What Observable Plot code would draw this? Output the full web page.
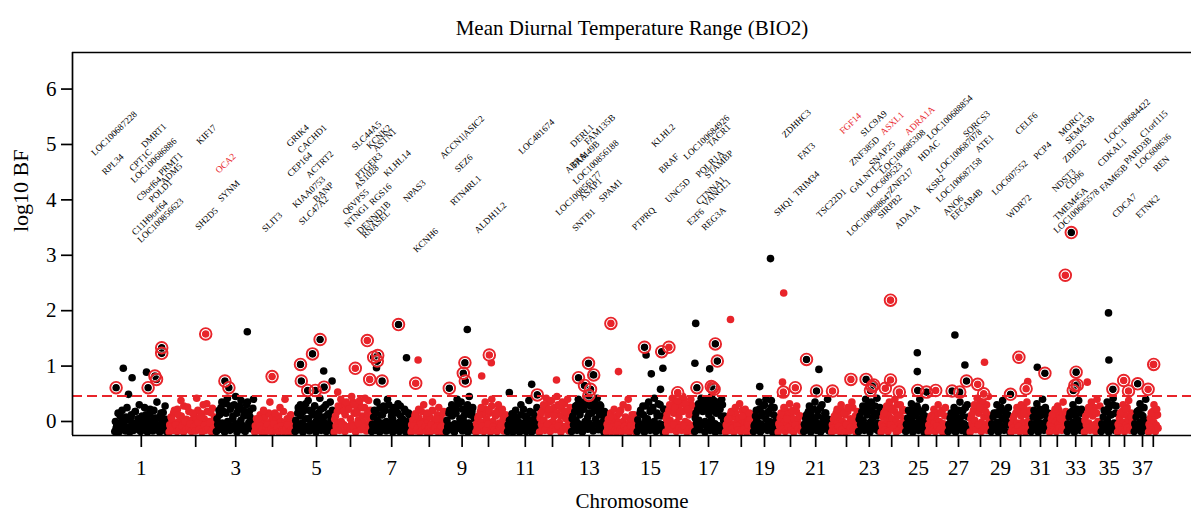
<!DOCTYPE html>
<html><head><meta charset="utf-8">
<script src="https://cdn.jsdelivr.net/npm/d3@7"></script>
<script src="https://cdn.jsdelivr.net/npm/@observablehq/plot@0.6"></script>
<style>html,body{margin:0;padding:0;background:#fff}</style>
</head><body><div id="chart"></div>
<script>
// ---------------- data ----------------
const title = "Mean Diurnal Temperature Range (BIO2)";
const xLabel = "Chromosome";
const yLabel = "log10 BF";
const RED = "#e8242a", BLACK = "#000000";
const threshold = 0.46;
const yTicks = [0, 1, 2, 3, 4, 5, 6];
// cumulative genome position (approx. Mb) of each chromosome's centre, chr 1..38
const chrMid = [102,238,338,430,540,625,728,822,904,970,1062,1130,1222,1305,1375,1448,1520,1602,1660,1725,1788,1865,1922,1978,2045,2090,2145,2200,2250,2300,2350,2392,2438,2478,2522,2560,2605,2632];
// background SNP values (log10 BF x 100), in genomic order along each chromosome (first set)
const cloudValues = [
 [-18,-12,-5,-19,10,-15,-8,2,-17,25,-10,-19,8,-3,-16,18,-12,-6,30,-18,-9,4,-14,12,-19,-2,22,-11,-17,6,-7,35,-15,-19,15,-4,-13,28,-18,-8],
 [-19,-10,5,-16,20,-6,-18,12,-13,38,-8,-19,0,-15,26,-11,-4,-18,15,-9,-17,42,-2,-14,8,-19,30,-7,-16,18,-12,-3,-18,24,-10,-17],
 [-18,-5,20,-14,35,-10,-19,15,42,-8,-16,28,5,-12,45,-19,22,-6,38,-15,10,-18,30,-9,18,-13,-2,40],
 [-19,-12,-16,5,-8,-18,-14,20,-19,-10,-6,-17,35,-13,-19,-4,15,-16,-11,-19,25,-8,-15,-18,40,-12,-6,-19,10,-14,-17,-9],
 [-18,-8,15,-15,30,-12,-19,22,5,-10,38,-17,-4,18,-14,28,-19,8,-11,42,-16,0,25,-9,-18,12,-6,35,-13,-19],
 [-19,10,-12,28,-16,40,-6,18,-18,35,-10,22,-14,45,-8,30,-19,15,-4,38,-15,25,-11,42,-17,8,-13,20],
 [-18,-10,20,-16,35,-6,-19,12,-13,28,-8,-17,40,-3,-15,18,-19,25,-11,-5,32,-18,10,-14,-7,22,-19,-12,15,-9],
 [-19,-14,-8,10,-17,-12,22,-19,-5,-15,30,-10,-18,15,-13,-19,-6,35,-16,-11,5,-18,25,-14,-9,-19,18,-12],
 [-18,-10,15,-15,30,-8,-19,22,40,-12,-5,35,-17,10,-14,25,-19,45,-9,18,-16,5],
 [-19,-12,10,-16,25,-8,-18,35,-14,-5,20,-19,40,-10,-15,15,-18,30,-11,-6,22,-17,-13,8],
 [-18,-10,-15,5,-19,-12,20,-16,-8,-19,30,-14,-11,10,-18,-6,38,-15,-19,15,-9,-13,25,-17],
 [-19,15,-10,30,-16,42,-5,22,-18,38,-12,10,-15,45,-8,28,-19,35,-14,18,-11,40,-17,25],
 [-18,10,-12,28,-16,40,-6,20,-19,35,-10,45,-14,15,-8,38,-17,25,-4,42,-15,30,-11,18,-19,5],
 [-19,-12,-16,8,-18,-10,22,-15,-19,-6,15,-13,-18,30,-9,-17,-14,40,-19,-8,12,-16,-11,-19],
 [-18,-8,15,-14,28,-19,5,-10,35,-16,20,-12,42,-18,10,-6,30,-15,-19,22],
 [-19,12,-10,30,-15,42,-6,25,-18,38,-12,18,-16,45,-8,32,-19,22,-13,40,-17,28],
 [-18,15,-10,32,-15,42,-5,25,-19,38,-12,20,-16,45,-8,30,-19,35,-13,22,-17,40,-11,10],
 [-19,-10,5,-16,18,-12,-19,25,-8,-15,32,-18,10,-14,22,-19,-6,15,-17,-11],
 [-18,-5,20,-14,35,-19,10,28,-10,40,-16,15,-8,38,-19,25,-12,5],
 [-19,-8,15,-14,25,-18,5,-11,32,-16,20,-19,-6,28,-13,10,-17,-9],
 [-18,-10,12,-15,28,-19,5,-12,35,-16,20,-8,-19,30,-14,15,-11,40,-17,-5],
 [-19,-12,10,-16,22,-9,-18,30,-14,15,-19,-6,25,-17,-11,35,-15,5,-19,18],
 [-18,10,-12,28,-16,40,-8,20,-19,35,-10,15,-14,42,-17,25],
 [-19,-10,15,-15,28,-18,35,-6,22,-12,40,-19,10,-16,30,-9,-14,20],
 [-18,-8,20,-14,32,-19,10,-11,28,-16,40,-6,15,-19,25,-13],
 [-19,-12,10,-16,22,-18,-8,30,-14,15,-19,-10,25,-17],
 [-18,-10,15,-15,25,-19,5,-12,35,-16,20,-8,-19,30,-14],
 [-19,12,-10,30,-15,42,-6,25,-18,38,-12,18,-16,45,-8],
 [-18,-8,15,-14,30,-19,20,-11,38,-16,10,-6,25,-19],
 [-19,-12,10,-16,25,-9,-18,30,-14,15,-19,35,-11,20],
 [-18,-8,20,-14,32,-19,10,-11,40,-16,25,-6,15],
 [-19,-10,12,-15,22,-18,28,-12,5,-16,35,-9,18],
 [-18,-8,15,-14,30,-19,10,-11,38,-16,22,-6],
 [-19,10,-12,25,-16,35,-8,18,-18,40,-13,28],
 [-18,-8,20,-14,35,-19,12,-10,42,-16,28],
 [-19,-10,15,-15,30,-18,22,-12,38,-16,8,-9],
 [-18,-8,18,-14,32,-19,10,-11,40,-16],
 [-19,-10,15,-15,30,-18,22,-12]
];
// background SNP values (log10 BF x 100), second set, interleaved with the first
const cloudValues2 = [
 [0,-8,15,-12,-2,20,-6,-14,8,-10,3,-15,12,-4,-11,18,-7,5,-13,-1,10,-9,25,-5,-12,2,14,-8,-3,20,-11,6,-6,-14,10,-2,16,-9,4,-12],
 [-6,8,-12,15,-3,-9,22,0,-14,10,-5,28,-10,4,-7,18,-13,2,-4,12,-11,6,20,-8,-2,14,-12,5,-6,32,-9,0,16,-3,-11,8],
 [5,-8,12,25,-3,18,-10,32,0,-6,22,-12,10,30,-4,15,-9,28,2,-7,20,-11,12,35,-2,8,-5,24],
 [-8,5,-3,-12,12,-6,2,-10,8,-4,-13,15,-2,-9,6,-7,-11,3,-5,10,-12,0,-8,18,-4,-10,5,-6,-2,12,-9,-3],
 [2,-6,25,-10,10,-3,18,-8,32,-12,5,20,-5,12,-9,28,0,-7,15,-11,22,-4,8,-2,30,-10,14,-6,4,20],
 [4,-8,18,-3,25,0,32,-6,12,22,-10,28,5,-4,35,15,-8,20,2,30,-5,10,-2,25,-9,14,38,0],
 [-5,8,-10,15,2,-7,25,-3,12,-12,20,0,-6,30,-9,10,5,-4,22,-11,15,-2,28,-8,4,-6,18,0,-10,12],
 [-6,2,-12,14,-3,-9,6,-4,18,-11,0,-7,10,-2,-13,8,-5,20,-8,2,-10,12,-4,-7,5,-12,15,-3],
 [2,-6,20,-10,10,28,-4,15,-8,32,5,-12,22,0,-7,18,30,-3,12,-9,25,8],
 [-4,6,-10,18,-2,12,-8,22,4,-12,15,-5,28,0,-9,10,-6,20,-3,14,-11,5,-7,12],
 [-6,2,-10,14,-3,-8,8,-12,0,-5,12,-9,22,-2,-11,6,-4,18,-8,2,-13,10,-6,-2],
 [6,-5,20,2,28,-8,12,35,-3,18,0,25,-6,15,30,-2,10,22,-9,32,5,15,-4,20],
 [5,-6,18,2,30,-4,12,25,-8,22,0,32,8,-3,28,15,-7,35,4,20,-5,12,28,-2,10,18],
 [-5,4,-10,15,-3,-8,6,-12,10,-2,-7,20,-4,0,-11,8,-6,25,-3,-9,5,-12,12,-5],
 [3,-5,20,-9,12,-2,28,5,-7,18,-3,25,0,-10,15,32,-4,10,-6,22],
 [5,-4,20,2,28,-8,15,35,-2,22,8,30,-6,18,40,0,25,-3,12,32,-7,15],
 [6,-3,22,2,30,-7,18,35,0,25,-5,12,32,4,20,38,-4,15,28,-8,22,10,30,2],
 [-6,3,-11,12,-4,8,-9,15,-2,-13,6,-5,20,-8,0,10,-3,-12,5,-7],
 [-8,10,2,-12,22,-4,15,-9,30,5,-6,18,0,25,-3,12,-10,8],
 [-4,6,-10,12,-2,20,-7,8,-12,15,-3,5,-9,18,0,-6,10,-11],
 [-5,5,-10,18,-2,12,-8,22,2,-12,10,-4,25,-7,6,-2,15,-9,4,-6],
 [-6,4,-10,15,-3,8,-12,20,0,-7,12,-4,18,-9,5,-2,25,-10,10,-5],
 [4,-5,18,2,25,-8,12,30,-2,20,6,-6,28,10,-3,15],
 [-4,8,-9,20,2,12,-6,25,5,-10,18,0,30,-7,12,-3,22,5],
 [-5,6,-10,15,2,20,-7,12,-3,22,5,-9,18,0,10,-6],
 [-6,4,-10,12,-3,8,-12,15,0,-7,20,-4,10,-9],
 [-5,6,-9,15,-2,12,-7,20,2,-11,10,-4,25,-8,8],
 [5,-4,20,2,28,-8,15,32,-2,22,8,-6,30,12,0],
 [-4,8,-9,15,-2,12,-7,25,4,-10,18,0,12,-6],
 [-5,5,-10,15,-3,20,-8,10,-2,25,-7,12,0,-4],
 [-4,8,-9,15,2,-7,22,-3,12,-10,18,0,6],
 [-5,5,-9,15,-2,10,-7,20,0,-11,12,-4,8],
 [-4,8,-9,18,-2,12,-7,22,2,-10,15,0],
 [2,-6,15,-3,20,-9,10,25,-5,15,0,-8],
 [-4,8,-10,18,2,25,-7,12,30,-3,15],
 [-5,6,-9,18,-2,12,-7,25,3,-10,15,0],
 [-4,8,-10,20,-2,12,-6,25,2,-8],
 [-5,6,-9,18,-2,10,-7,12]
];
// notable SNPs: [chromosome, position, log10 BF, circled (1) or not (0)]
const peaks = [
 [1,39,0.61,1],[1,57,0.96,0],[1,79,0.79,0],[1,70,0.49,0],[1,115,0.89,0],[1,119,0.61,1],[1,136,0.82,1],[1,140,0.76,1],[1,153,1.33,1],[1,153,1.23,1],
 [2,263,1.58,1],
 [3,367,1.62,0],[3,311,0.73,1],[3,321,0.61,1],
 [4,429,0.81,1],
 [5,500,1.03,1],[5,502,0.73,1],[5,530,1.22,1],[5,549,1.48,1],[5,558,0.91,0],[5,518,0.56,1],[5,537,0.56,1],[5,559,0.62,1],[5,579,0.73,0],
 [6,593,0.53,0],[6,637,0.96,1],[6,667,1.46,1],[6,673,0.76,1],
 [7,683,1.16,1],[7,693,1.19,1],[7,692,1.09,1],[7,690,0.97,0],[7,704,0.73,1],[7,745,1.75,1],[7,765,1.15,0],
 [8,794,1.11,0],[8,788,0.69,1],
 [9,872,0.60,1],[9,911,1.06,1],[9,907,0.87,1],[9,912,0.73,1],[9,917,1.66,0],
 [10,953,0.82,0],[10,977,1.06,0],[10,972,1.20,1],
 [11,1022,0.52,0],[11,1078,0.67,0],[11,1092,0.48,1],
 [12,1140,0.75,0],
 [13,1228,0.85,0],[13,1220,1.05,1],[13,1195,0.79,1],[13,1233,0.84,1],[13,1210,0.65,1],[13,1225,0.58,1],[13,1221,0.47,1],
 [14,1276,1.77,1],[14,1295,0.90,0],
 [15,1364,1.20,0],[15,1360,1.34,1],[15,1377,0.86,0],[15,1406,0.96,0],[15,1403,1.26,1],[15,1400,0.58,0],
 [16,1421,1.34,1],[16,1443,0.52,1],
 [17,1488,1.77,0],[17,1486,1.05,0],[17,1491,0.61,1],[17,1537,1.40,1],[17,1542,1.09,1],[17,1523,0.95,0],[17,1531,0.61,1],[17,1527,0.63,1],[17,1534,0.58,1],
 [18,1575,1.84,0],
 [19,1648,0.63,0],[19,1675,2.94,0],
 [20,1708,2.32,0],[20,1705,0.71,0],[20,1707,0.53,1],[20,1737,0.61,1],
 [21,1765,1.12,1],[21,1796,0.94,0],[21,1790,0.55,1],
 [22,1830,0.55,1],[22,1876,0.76,1],
 [23,1914,0.76,1],[23,1929,0.63,1],[23,1925,0.56,1],[23,1933,0.66,1],
 [24,1975,2.19,1],[24,1975,0.75,1],[24,1962,0.60,1],[24,1997,0.53,1],
 [25,2042,1.24,0],[25,2042,0.90,0],[25,2043,0.56,1],[25,2065,0.53,1],
 [26,2088,0.56,1],
 [27,2136,1.56,0],[27,2161,1.02,0],[27,2129,0.55,1],[27,2148,0.53,1],[27,2165,0.73,1],
 [28,2210,1.07,0],[28,2193,0.67,1],[28,2208,0.50,1],
 [29,2275,0.49,1],
 [30,2318,0.72,0],[30,2296,1.16,1],[30,2314,0.59,1],
 [31,2342,0.98,0],[31,2361,0.87,1],
 [32,2412,2.64,1],
 [33,2427,3.41,1],[33,2439,0.89,1],[33,2436,0.65,1],[33,2442,0.66,1],[33,2432,0.56,1],
 [34,2467,0.71,0],
 [35,2520,1.96,0],[35,2521,1.11,0],[35,2531,0.58,1],
 [36,2558,0.74,1],[36,2570,0.55,1],
 [37,2593,0.68,1],
 [38,2628,1.02,0],[38,2633,1.03,1],[38,2619,0.58,1]
];
// gene annotations: [name, position, log10 BF of label centre]
const genes = [
 ["LOC100687228",34,5.20],["RPL34",31,4.64],["CPT1C",100,4.72],["DMRT1",133,5.16],["LOC100686886",133,4.71],
 ["PRMT1",175,4.65],["C9orf64",121,4.20],["ADM5",177,4.47],["POLD1",150,4.16],["C11H9orf64",123,3.68],
 ["LOC100856623",150,3.63],["KIF17",265,5.18],["OCA2",313,4.66],["SYNM",321,4.16],["SH2D5",265,3.66],
 ["SLIT3",429,3.60],["GRIK4",493,5.16],["CACHD1",529,5.10],["CEP164",498,4.64],["ACTRT2",548,4.64],
 ["KIAA0753",521,4.14],["BANP",557,4.14],["SLC47A2",533,3.81],["SLC44A5",665,5.16],["KCNK2",696,5.14],
 ["ASTN1",710,5.08],["PTGER3",671,4.62],["AS1028",665,4.42],["KLHL14",742,4.66],["Q6VPS5",638,3.96],
 ["RGS16",700,4.10],["NTNG1",640,3.72],["DENND1B",683,3.68],["RNASEL",688,3.56],["NPAS3",785,4.16],
 ["KCNH6",813,3.27],["ACCN1|ASIC2",904,5.13],["SEZ6",908,4.66],["RTN4RL1",913,4.17],["ALDH1L2",975,3.68],
 ["LOC481674",1090,5.14],["DERL1",1204,5.16],["FAM135B",1248,5.27],["ABRA",1188,4.67],["FAM49B",1213,4.82],
 ["LOC100856188",1238,4.68],["LOC100856177",1195,4.12],["ASAP1",1225,4.19],["SPAM1",1275,4.17],["SNTB1",1208,3.64],
 ["KLHL2",1407,5.16],["BRAF",1421,4.66],["LOC100684926",1515,5.13],["TACR1",1546,5.16],["POLR1A",1523,4.65],
 ["STAMBP",1546,4.64],["UNC5D",1443,4.17],["CTNNA1",1525,4.17],["VANGL1",1540,4.13],["PTPRQ",1358,3.66],
 ["E2F6",1488,3.69],["REG3A",1533,3.66],["ZDHHC3",1740,5.38],["FAT3",1765,4.88],["SHQ1",1708,3.88],
 ["TRIM34",1765,4.29],["FGF14",1875,5.38],["SLC9A9",1933,5.38],["ASXL1",1979,5.38],["ADRA1A",2048,5.43],
 ["ZNF385D",1910,4.88],["SNAP25",1954,4.83],["LOC100685308",2005,4.87],["GALNTL2",1913,4.41],["LOC609523",1960,4.36],
 ["ZNF217",2000,4.35],["TSC22D1",1827,3.94],["LOC100688647",1923,3.75],["SIRPB2",1973,3.88],["ADA1A",2017,3.70],
 ["LOC100688854",2123,5.49],["HDAC",2071,4.89],["SORCS3",2190,5.37],["LOC100687078",2146,4.88],["ATE1",2210,5.02],
 ["KSR2",2088,4.29],["LOC100687158",2146,4.36],["ANO6",2132,3.90],["EFCAB4B",2165,3.92],["CELF6",2315,5.38],
 ["LOC607552",2273,4.40],["WDR72",2296,3.88],["PCP4",2355,4.89],["MORC1",2427,5.37],["SEMA5B",2448,5.27],
 ["ZBED2",2435,4.88],["NDST3",2408,4.35],["CD96",2435,4.36],["TMEM45A",2425,3.93],["LOC100685578",2440,3.80],
 ["LOC100684422",2567,5.42],["CDKAL1",2529,4.86],["PARD3B",2593,4.89],["C1orf115",2633,5.37],["LOC608636",2632,4.88],
 ["REN",2652,4.65],["FAM65B",2533,4.40],["CDCA7",2560,3.90],["ETNK2",2618,3.88]
];
const redGenes = ["OCA2","FGF14","ASXL1","ADRA1A"];

// ---------------- derived tables ----------------
const xDomain = [-70, 2727.5];
const yDomain = [-0.253, 6.66];
const nChr = chrMid.length;
const bounds = d3.range(nChr - 1).map(i => (chrMid[i] + chrMid[i + 1]) / 2);
const chrStart = chrMid.map((m, i) => i === 0 ? 2 * m - bounds[0] : bounds[i - 1]);
const chrEnd = chrMid.map((m, i) => i === nChr - 1 ? 2 * m - bounds[nChr - 2] : bounds[i]);
const colorOf = c => (c % 2 === 1 ? BLACK : RED);

const cloud = [];
cloudValues.forEach((vals, ci) => {
  const s = chrStart[ci], e = chrEnd[ci];
  const vals2 = cloudValues2[ci];
  const n = vals.length, n2 = vals2.length;
  vals2.forEach((v, i) => cloud.push({chr: ci + 1, pos: s + (i + 1) * (e - s) / (n2 + 1), v: v / 100, color: colorOf(ci + 1)}));
  vals.forEach((v, i) => cloud.push({chr: ci + 1, pos: s + (i + 0.5) * (e - s) / n, v: v / 100, color: colorOf(ci + 1)}));
});
cloud.sort((a, b) => a.chr - b.chr);
const peakData = peaks.map(([chr, pos, v, ring]) => ({chr, pos, v, ring, color: colorOf(chr)}));
const ringed = peakData.filter(d => d.ring);
const geneData = genes.map(([name, pos, v]) => ({name, pos, v, color: redGenes.includes(name) ? RED : BLACK}));
const tickLabel = new Map(chrMid.map((m, i) => [m, (i + 1) % 2 === 1 ? String(i + 1) : ""]));

const chart = Plot.plot({
  width: 1191,
  height: 522,
  marginLeft: 72,
  marginRight: 0,
  marginTop: 52,
  marginBottom: 87,
  style: {fontFamily: "'Liberation Serif', 'Times New Roman', serif", fontSize: "21px", background: "#fff", color: "#000"},
  x: {domain: xDomain, axis: null},
  y: {domain: yDomain, axis: null},
  color: {type: "identity"},
  marks: [
    Plot.dot(cloud, {x: "pos", y: "v", r: 3.8, fill: "color"}),
    Plot.dot(peakData, {x: "pos", y: "v", r: 3.8, fill: "color"}),
    Plot.dot(ringed, {x: "pos", y: "v", r: 4.5, stroke: "#fff", strokeWidth: 0.8, fill: "none"}),
    Plot.dot(ringed, {x: "pos", y: "v", r: 5.8, stroke: RED, strokeWidth: 1.9, fill: "none"}),
    Plot.ruleY([threshold], {stroke: RED, strokeWidth: 2, strokeDasharray: "10,5"}),
    Plot.text(geneData, {x: "pos", y: "v", text: "name", fill: "color", rotate: -44, fontSize: 9.2, textAnchor: "middle"}),
    Plot.ruleX([xDomain[0]], {stroke: "#000", strokeWidth: 1.7}),
    Plot.ruleY([yDomain[0]], {stroke: "#000", strokeWidth: 1.7}),
    Plot.ruleY([yDomain[1]], {stroke: "#000", strokeWidth: 1.7}),
    Plot.axisY({ticks: yTicks, tickSize: 11, tickPadding: 5, fontSize: 21, strokeWidth: 1.7, label: null, tickFormat: d => String(d)}),
    Plot.axisX({ticks: chrMid, tickSize: 12, tickPadding: 13, fontSize: 21, strokeWidth: 1.7, label: null, tickFormat: d => tickLabel.get(d)}),
    Plot.text([title], {frameAnchor: "top", dy: -32, fontSize: 21}),
    Plot.text([xLabel], {frameAnchor: "bottom", dy: 72, fontSize: 21}),
    Plot.text([yLabel], {frameAnchor: "left", rotate: -90, dx: -52, dy: -12, fontSize: 22})
  ]
});
document.getElementById("chart").appendChild(chart);
</script>
</body></html>
